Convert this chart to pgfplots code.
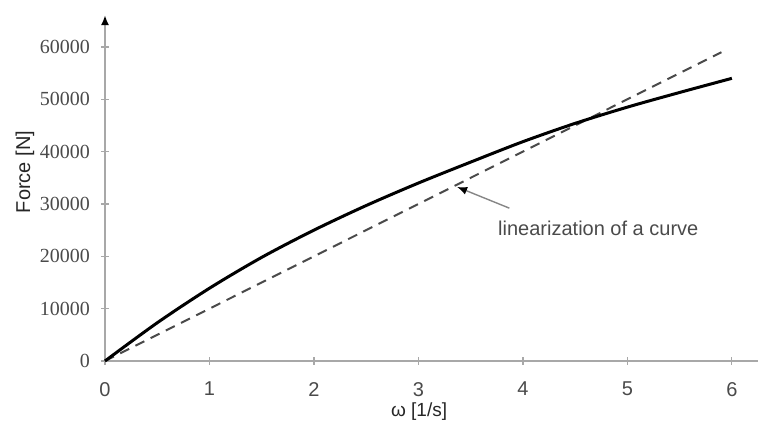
\documentclass[border=0pt]{standalone}
\usepackage{fontspec}
\setmainfont{Liberation Sans}
\newfontfamily\serifnum{Liberation Serif}
\usepackage{pgfplots}
\pgfplotsset{compat=1.18}
\usetikzlibrary{arrows.meta}
\definecolor{axgray}{HTML}{A8A8A8}
\definecolor{txtgray}{HTML}{4A4A4A}
\begin{document}
\begin{tikzpicture}
\useasboundingbox (-52.5pt,-33pt) rectangle (328pt,180.5pt);
\begin{axis}[
  at={(0,0)}, anchor=south west,
  scale only axis, width=326.5pt, height=173pt,
  xmin=0, xmax=6.25, ymin=0, ymax=66100,
  axis x line=bottom, axis y line=left,
  x axis line style={-, draw=axgray, line width=1pt},
  y axis line style={-{Latex[length=5pt,width=4pt,black]}, draw=axgray, line width=1pt},
  xtick={0,1,2,3,4,5,6}, ytick={0,10000,20000,30000,40000,50000,60000},
  tick align=center, major tick length=4pt,
  tick style={axgray, line width=0.6pt},
  scaled y ticks=false,
  /pgf/number format/1000 sep={},
  /pgf/number format/assume math mode=true,
  xticklabel style={font=\fontsize{10}{12}\selectfont, text=txtgray, yshift=-5pt},
  yticklabel style={font=\serifnum\fontsize{10}{12}\selectfont, text=txtgray, xshift=-2pt},
  xlabel={ω [1/s]}, ylabel={Force [N]},
  xlabel style={at={(axis description cs:0.481,-0.147)}, anchor=center, font=\fontsize{9.5}{11}\selectfont, text=black!85},
  ylabel style={at={(axis description cs:-0.1225,0.546)}, anchor=center, font=\fontsize{10}{12}\selectfont, text=black!85},
  clip=false,
]
\addplot[txtgray, line width=1pt, dash pattern=on 5pt off 3.5pt] coordinates {(0,0) (5.9,59000)};
\addplot[black, line width=1.5pt, smooth, no markers] coordinates {
(0,0) (0.5,7300) (1,13900) (1.5,19800) (2,25000) (2.5,29700) (3,34000)
(3.5,38000) (4,41900) (4.5,45400) (5,48500) (5.5,51300) (6,54000)};
\draw[axgray!80!black, line width=0.7pt, -{Latex[length=5pt,width=4pt,black]}] (axis cs:3.87,29200) -- (axis cs:3.37,33250);
\node[anchor=west, font=\fontsize{10}{12}\selectfont, text=txtgray, inner sep=0pt] at (axis cs:3.76,25400) {linearization of a curve};
\end{axis}
\end{tikzpicture}
\end{document}
